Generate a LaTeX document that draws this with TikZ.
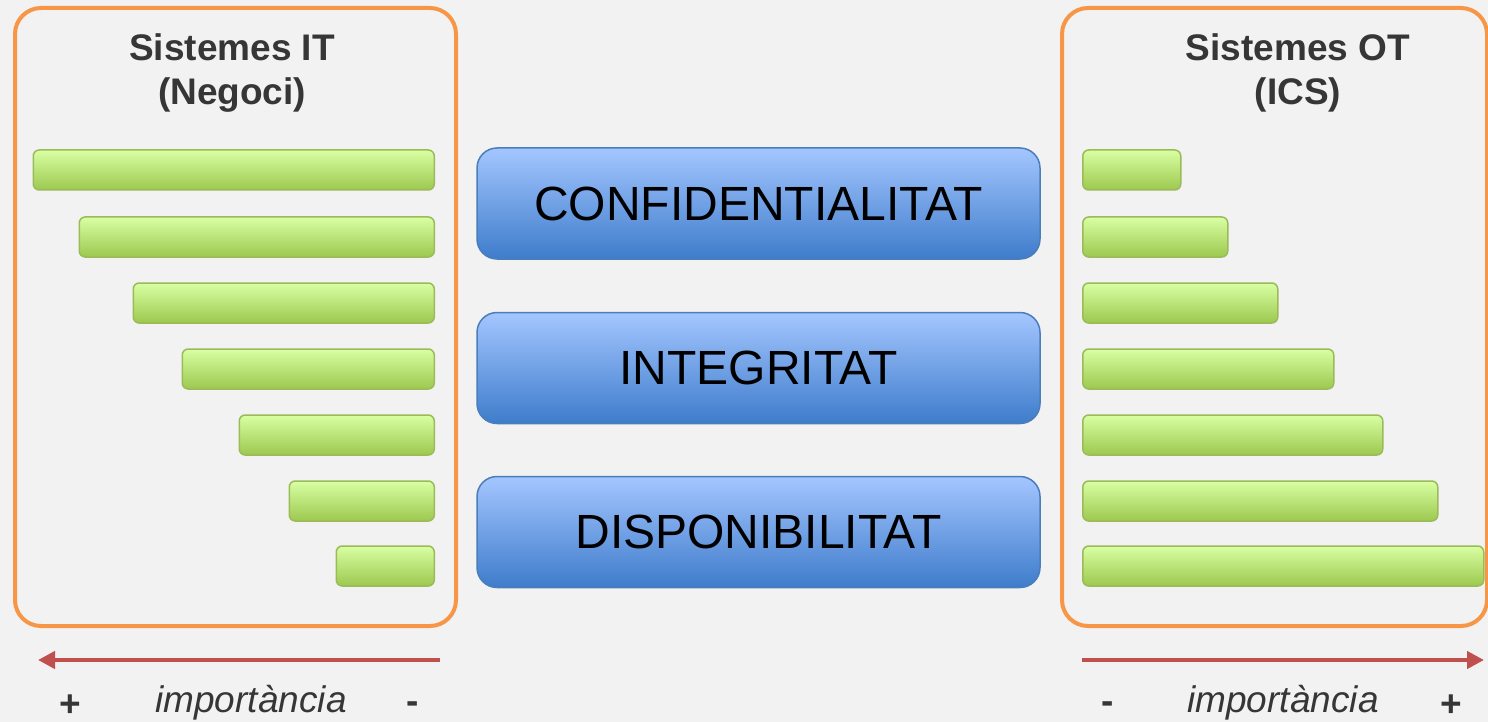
\documentclass[tikz,border=0pt]{standalone}
\usepackage{fontspec}
\setmainfont{Liberation Sans}
\usepackage{xcolor}
\usepackage{tikz}
\usetikzlibrary{shapes}
\usetikzlibrary{positioning}
\usetikzlibrary{arrows.meta}
\definecolor{bggray}{HTML}{F2F2F2}
\definecolor{frameorange}{HTML}{F79646}
\definecolor{bartop}{HTML}{D8FFA3}
\definecolor{barbot}{HTML}{9DC84F}
\definecolor{barline}{HTML}{9BBB59}
\definecolor{boxtop}{HTML}{A4C6FF}
\definecolor{boxbot}{HTML}{3E7CCB}
\definecolor{boxline}{HTML}{4A7EBB}
\definecolor{arrowred}{HTML}{C0504D}
\definecolor{textgray}{HTML}{363636}
\tikzset{
    frame/.style = {draw=frameorange, line width=4pt, rounded corners=26pt, minimum height=618pt},
    bar/.style = {draw=barline, line width=1.5pt, rounded corners=6pt, top color=bartop, bottom color=barbot, minimum height=40pt, inner sep=0pt},
    prop/.style = {draw=boxline, line width=1.5pt, rounded corners=20pt, top color=boxtop, bottom color=boxbot, minimum width=563pt, minimum height=111pt, font=\fontsize{48}{57}\selectfont},
    title/.style = {align=center, text=textgray, font=\fontsize{37}{44}\selectfont\bfseries},
    imp/.style = {anchor=base, inner sep=0pt, text=textgray, font=\fontsize{37}{44}\selectfont\itshape},
    sign/.style = {anchor=base, inner sep=0pt, text=textgray, font=\fontsize{37}{44}\selectfont\bfseries},
    imparrow/.style = {draw=arrowred, line width=4.5pt, -{Triangle[length=17pt,width=17pt]}}
}
\begin{document}
\begin{tikzpicture}[x=1pt,y=-1pt]
\fill[bggray] (0,0) rectangle (1488,722);
\useasboundingbox (0,0) rectangle (1488,722);

% IT side
\node[frame, minimum width=441pt] at (235.5,317) (itframe) {};
\node[title] at (232,73) (ittitle) {Sistemes IT\\(Negoci)};
\node[bar, anchor=east, minimum width=401pt] at (435,170) (it1) {};
\node[bar, anchor=east, minimum width=355pt] at (435,237) (it2) {};
\node[bar, anchor=east, minimum width=301pt] at (435,303) (it3) {};
\node[bar, anchor=east, minimum width=252pt] at (435,369) (it4) {};
\node[bar, anchor=east, minimum width=195pt] at (435,435) (it5) {};
\node[bar, anchor=east, minimum width=145pt] at (435,501) (it6) {};
\node[bar, anchor=east, minimum width=98pt] at (435,566) (it7) {};

% OT side
\node[frame, minimum width=425pt] at (1274.5,317) (otframe) {};
\node[title] at (1298,73) (ottitle) {Sistemes OT\\(ICS)};
\node[bar, anchor=west, minimum width=98pt] at (1082,170) (ot1) {};
\node[bar, anchor=west, minimum width=145pt] at (1082,237) (ot2) {};
\node[bar, anchor=west, minimum width=195pt] at (1082,303) (ot3) {};
\node[bar, anchor=west, minimum width=251pt] at (1082,369) (ot4) {};
\node[bar, anchor=west, minimum width=300pt] at (1082,435) (ot5) {};
\node[bar, anchor=west, minimum width=355pt] at (1082,501) (ot6) {};
\node[bar, anchor=west, minimum width=401pt] at (1082,566) (ot7) {};

% the three properties
\node[prop] at (758.5,203.5) (conf) {CONFIDENTIALITAT};
\node[prop] at (758.5,368) (integ) {INTEGRITAT};
\node[prop] at (758.5,532) (disp) {DISPONIBILITAT};

% importance scales
\coordinate (itfrom) at (440,660);
\coordinate (itto) at (38,660);
\coordinate (otfrom) at (1082,660);
\coordinate (otto) at (1484,660);
\draw[imparrow] (itfrom) -- (itto);
\draw[imparrow] (otfrom) -- (otto);
\node[sign] at (70,716) (itplus) {+};
\node[imp] at (251,712) (itimp) {importància};
\node[sign] at (413,713) (itminus) {-};
\node[sign] at (1108,713) (otminus) {-};
\node[imp] at (1283,712) (otimp) {importància};
\node[sign] at (1451,716) (otplus) {+};
\end{tikzpicture}
\end{document}
